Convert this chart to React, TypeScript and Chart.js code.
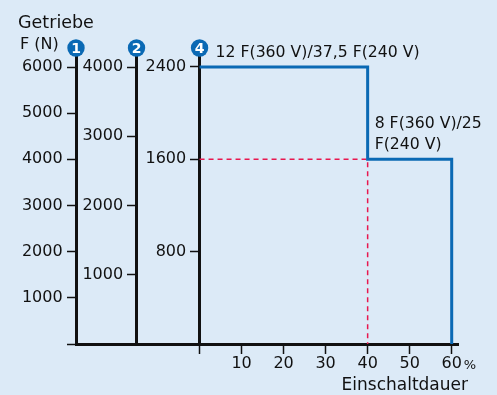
import React, { useEffect, useRef } from "react";
import { Chart, registerables } from "chart.js";

Chart.register(...registerables);

const X_TICKS = [0, 10, 20, 30, 40, 50, 60];
const Y1_TICKS = [0, 1000, 2000, 3000, 4000, 5000, 6000];
const Y2_TICKS = [0, 1000, 2000, 3000, 4000];
const Y4_TICKS = [0, 800, 1600, 2400];
const DUTY = [0, 40, 40, 60, 60];
const FORCE = [2400, 2400, 1600, 1600, 0];
const REF_DUTY = [0, 40, 40];
const REF_FORCE = [1600, 1600, 0];
const AXIS_BADGES = ["1", "2", "4"];
const LABEL_TOP = "12 F(360 V)/37,5 F(240 V)";
const LABEL_STEP = ["8 F(360 V)/25", "F(240 V)"];
const Y_TITLE = ["Getriebe", "F (N)"];
const X_TITLE = "Einschaltdauer";

const FONT = "'DejaVu Sans', sans-serif";
const BLUE = "#0a69b4";
const RED = "#e8174f";
const INK = "#111111";
const LABEL_GAP = "  \u2009";

const overlay = {
  id: "overlay",
  afterDraw(chart: any) {
    const { ctx, scales } = chart;
    const x = scales.x;
    const y4 = scales.y4;
    ctx.save();
    ctx.fillStyle = INK;
    ctx.textBaseline = "alphabetic";
    ctx.textAlign = "left";
    ctx.font = `17.5px ${FONT}`;
    ctx.fillText(Y_TITLE[0], 18, 28);
    ctx.font = `16px ${FONT}`;
    ctx.fillText(Y_TITLE[1], 20, 49);
    ctx.font = `15.7px ${FONT}`;
    ctx.fillText(LABEL_TOP, x.getPixelForValue(0) + 16, y4.getPixelForValue(2400) - 10);
    ctx.fillText(LABEL_STEP[0], x.getPixelForValue(40) + 7, 128);
    ctx.fillText(LABEL_STEP[1], x.getPixelForValue(40) + 7, 149);
    ctx.font = `17px ${FONT}`;
    ctx.textAlign = "right";
    ctx.fillText(X_TITLE, x.right + 10, 390);
    ctx.textAlign = "left";
    ctx.font = `13px ${FONT}`;
    ctx.fillText("%", x.getPixelForValue(60) + 12, 369);
    // badges
    const axes = [scales.y, scales.y2, scales.y4];
    axes.forEach((s: any, i: number) => {
      const key = Object.keys(s.options.position)[0];
      const cx = chart.scales[key].getPixelForValue(s.options.position[key]);
      const cy = 48;
      ctx.beginPath();
      ctx.fillStyle = BLUE;
      ctx.arc(cx, cy, 8.7, 0, Math.PI * 2);
      ctx.fill();
      ctx.fillStyle = "#ffffff";
      ctx.font = `bold 14px ${FONT}`;
      ctx.textAlign = "center";
      ctx.textBaseline = "middle";
      ctx.fillText(AXIS_BADGES[i], cx, cy + 1);
    });
    ctx.restore();
  },
};

function yAxis(ticks: number[], max: number, at: number) {
  return {
    type: "linear",
    position: { x: at },
    min: 0,
    max,
    afterBuildTicks: (s: any) => {
      s.ticks = ticks.map((v) => ({ value: v }));
    },
    border: { display: true, color: INK, width: 3 },
    grid: { drawOnChartArea: false, drawTicks: true, tickLength: 8, tickWidth: 1.5, tickColor: INK },
    ticks: {
      color: INK,
      font: { family: FONT, size: 16 },
      padding: 4,
      callback: (v: any) => (v === 0 ? "" : String(v) + LABEL_GAP),
    },
  };
}

export default function App() {
  const ref = useRef<HTMLCanvasElement>(null);
  useEffect(() => {
    if (!ref.current) return;
    const k = 288 / 277;
    const chart = new Chart(ref.current, {
      type: "line",
      data: {
        datasets: [
          {
            data: DUTY.map((d, i) => ({ x: d, y: FORCE[i] })),
            yAxisID: "y4",
            borderColor: BLUE,
            borderWidth: 3,
            pointRadius: 0,
            fill: false,
            clip: false,
            tension: 0,
          },
          {
            data: REF_DUTY.map((d, i) => ({ x: d, y: REF_FORCE[i] })),
            yAxisID: "y4",
            borderColor: RED,
            borderWidth: 1.5,
            borderDash: [5, 4],
            pointRadius: 0,
            fill: false,
            clip: false,
          },
        ],
      } as any,
      options: {
        responsive: false,
        animation: false,
        events: [],
        layout: { padding: { left: 76, top: 56, right: 39, bottom: 51 } },
        plugins: { legend: { display: false }, tooltip: { enabled: false } },
        scales: {
          x: {
            type: "linear",
            position: { y: 0 },
            min: -29.4,
            max: 61.5,
            afterBuildTicks: (s: any) => {
              s.ticks = X_TICKS.map((v) => ({ value: v }));
            },
            border: { display: true, color: INK, width: 3 },
            grid: { drawOnChartArea: false, drawTicks: true, tickLength: 8, tickWidth: 1.5, tickColor: INK },
            ticks: {
              color: INK,
              font: { family: FONT, size: 16 },
              padding: 2,
              maxRotation: 0,
              callback: (v: any) => (v === 0 ? "" : String(v)),
            },
          },
          y: yAxis(Y1_TICKS, 6000 * k, -29.4),
          y2: yAxis(Y2_TICKS, 4000 * k, -15),
          y4: yAxis(Y4_TICKS, 2400 * k, 0),
        } as any,
      },
      plugins: [overlay],
    });
    return () => chart.destroy();
  }, []);
  return (
    <div style={{ position: "fixed", left: 0, top: 0, width: 497, height: 395, background: "#dceaf7" }}>
      <canvas ref={ref} width={497} height={395} />
    </div>
  );
}
